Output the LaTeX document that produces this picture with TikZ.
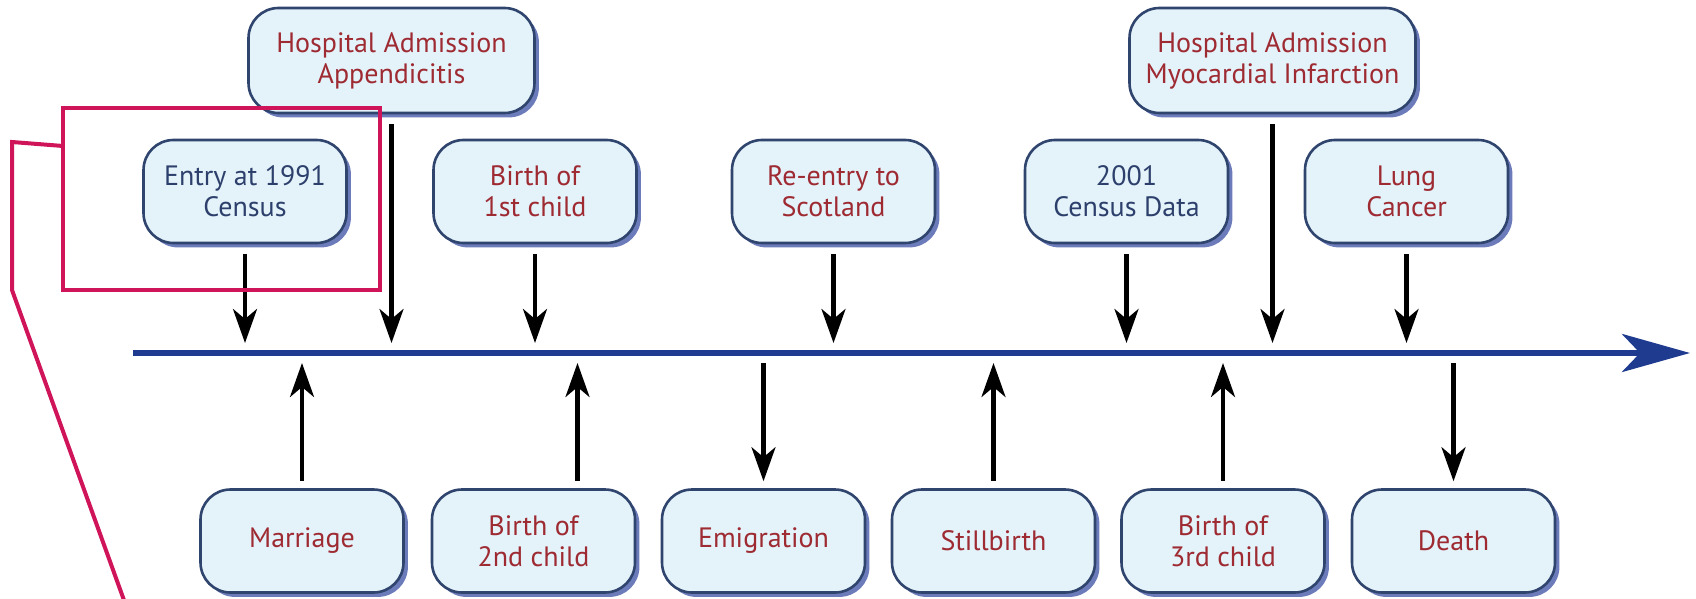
\documentclass[tikz,border=0pt]{standalone}
\usepackage{fontspec}
\setmainfont{PT Sans}
\usetikzlibrary{arrows.meta,shadows}
\definecolor{boxfill}{HTML}{E4F2FA}
\definecolor{boxedge}{HTML}{2F456E}
\definecolor{boxshade}{HTML}{6C7BBA}
\definecolor{evred}{HTML}{9E2A32}
\definecolor{evblue}{HTML}{2D406C}
\definecolor{axisblue}{HTML}{1E3B90}
\definecolor{callred}{HTML}{D0145A}
\tikzset{
  event/.style={draw=boxedge,line width=1.3pt,fill=boxfill,rounded corners=15pt,
    minimum width=101.5pt,minimum height=51.5pt,align=center,text=evred,
    drop shadow={shadow xshift=2.2pt,shadow yshift=-2.2pt,fill=boxshade,opacity=1}},
  wide/.style={minimum width=143pt,minimum height=52.5pt},
  tick/.style={line width=2.1pt,-{Stealth[length=17pt,width=12pt,inset=5pt]}},
  axis/.style={draw=axisblue,line width=3pt,-{Stealth[length=34pt,width=19pt,inset=9pt]}},
  callout/.style={draw=callred,line width=2pt}
}
\begin{document}
\begin{tikzpicture}[x=0.5pt,y=-0.5pt,font=\fontsize{14}{15.5}\selectfont]
\useasboundingbox (0,0) rectangle (1696,599);
% time axis
\coordinate (tl) at (133,353);
\coordinate (tr) at (1690,353);
\draw[axis] (tl)--(tr);
% events above the axis
\node[event,wide] (hospA) at (391.5,60.5) {Hospital Admission\\Appendicitis};
\node[event,wide] (hospM) at (1272.5,60.5) {Hospital Admission\\Myocardial Infarction};
\node[event,text=evblue] (entry) at (245,191.5) {Entry at 1991\\Census};
\node[event] (birthA) at (535,191.5) {Birth of\\1st child};
\node[event] (reentry) at (833.5,191.5) {Re-entry to\\Scotland};
\node[event,text=evblue] (census) at (1126.5,191.5) {2001\\Census Data};
\node[event] (lung) at (1406.5,191.5) {Lung\\Cancer};
% events below the axis
\node[event] (marriage) at (302,541) {Marriage};
\node[event] (birthB) at (533.5,541) {Birth of\\2nd child};
\node[event] (emig) at (763.5,541) {Emigration};
\node[event] (still) at (993.5,541) {Stillbirth};
\node[event] (birthC) at (1223,541) {Birth of\\3rd child};
\node[event] (death) at (1453.5,541) {Death};
% arrows onto the axis
\foreach \n in {hospA,hospM,entry,birthA,reentry,census,lung}
  \draw[tick,shorten <=5pt,shorten >=5pt] (\n)--(\n |- tl);
\foreach \n in {marriage,still,birthC}
  \draw[tick,shorten <=3.5pt,shorten >=5pt] (\n)--(\n |- tl);
\draw[tick,shorten <=3.5pt,shorten >=5pt] ([xshift=22pt]birthB.north)--([xshift=22pt]birthB.north |- tl);
\foreach \n in {emig,death}
  \draw[tick,shorten <=5pt,shorten >=3.5pt] (\n |- tl)--(\n);
% highlight
\draw[callout] (63,108) rectangle (380,290);
\draw[callout] (63,146)--(12,142)--(12,290)--(125,603);
\end{tikzpicture}
\end{document}
